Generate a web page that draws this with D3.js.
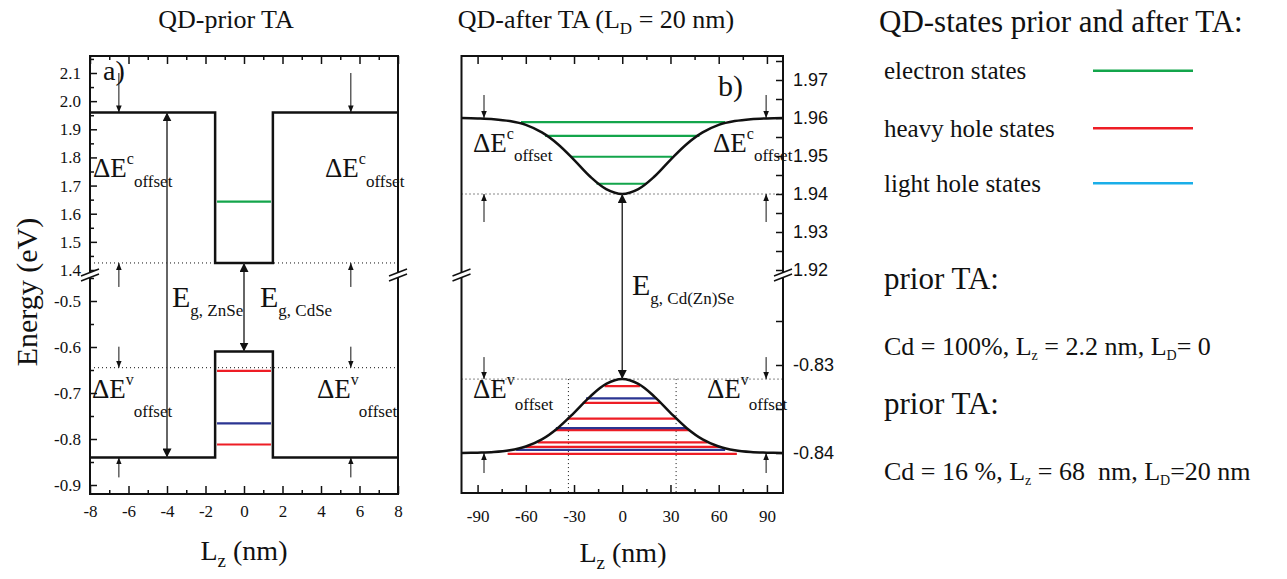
<!DOCTYPE html>
<html>
<head>
<meta charset="utf-8">
<script src="https://cdn.jsdelivr.net/npm/d3@7"></script>
<style>
body{margin:0;background:#fff;}
text{font-family:"Liberation Serif","Times New Roman",serif;fill:#111;}
</style>
</head>
<body>
<svg id="chart"></svg>
<script>
// ---- panel a: QD prior TA (square well) ----
var zA = [-8, -1.5, -1.5, 1.5, 1.5, 8];
var cbA = [1.96, 1.96, 1.425, 1.425, 1.96, 1.96];
var vbA = [-0.84, -0.84, -0.61, -0.61, -0.84, -0.84];
var elecA = [1.643];
var hhA = [-0.652, -0.812];
var lhA = [-0.766];
var levelHalfA = 1.4;
var xTicksA = [-8, -6, -4, -2, 0, 2, 4, 6, 8];
var xMinorA = [-7, -5, -3, -1, 1, 3, 5, 7];
var yTicksUpA = [1.4, 1.5, 1.6, 1.7, 1.8, 1.9, 2.0, 2.1];
var yMinorUpA = [1.45, 1.55, 1.65, 1.75, 1.85, 1.95, 2.05, 2.15];
var yTicksLowA = [-0.9, -0.8, -0.7, -0.6, -0.5];
var yMinorLowA = [-0.85, -0.75, -0.65, -0.55, -0.45];

// ---- panel b: QD after TA (interdiffused, L_D = 20 nm) ----
var zB = [-100, -90, -80, -70, -60, -50, -40, -30, -20, -10, 0, 10, 20, 30, 40, 50, 60, 70, 80, 90, 100];
var cbB = [1.9600, 1.9599, 1.9597, 1.9592, 1.9582, 1.9562, 1.9531, 1.9490, 1.9446, 1.9413, 1.9400,
           1.9413, 1.9446, 1.9490, 1.9531, 1.9562, 1.9582, 1.9592, 1.9597, 1.9599, 1.9600];
var vbB = [-0.84000, -0.83996, -0.83989, -0.83969, -0.83926, -0.83845, -0.83715, -0.83543, -0.83359, -0.83215, -0.83160,
           -0.83215, -0.83359, -0.83543, -0.83715, -0.83845, -0.83926, -0.83969, -0.83989, -0.83996, -0.84000];
var elecB = [1.9589, 1.9553, 1.9498, 1.9427];
var elecStartB = [-63, -48, -32, -16];
var elecEndB = [64, 48, 31, 15];
var hhB = [-0.8324, -0.8343, -0.8361, -0.8374, -0.8388, -0.8393, -0.8401];
var hhStartB = [-11, -24.6, -34, -42, -52.6, -60, -71.3];
var hhEndB = [11, 23.4, 33, 41.5, 53, 61, 71.3];
var lhB = [-0.8338, -0.83717, -0.83965];
var lhStartB = [-22.5, -41.3, -66];
var lhEndB = [21.5, 40.3, 64];
var xTicksB = [-90, -60, -30, 0, 30, 60, 90];
var xMinorB = [-75, -45, -15, 15, 45, 75];
var yTicksUpB = [1.92, 1.93, 1.94, 1.95, 1.96, 1.97];
var yMinorUpB = [1.925, 1.935, 1.945, 1.955, 1.965, 1.975];
var yTicksLowB = [-0.84, -0.83];
var yMinorLowB = [-0.835, -0.825, -0.82];

var green = "#13a54b", red = "#ee1d25", navy = "#2b3592", cyan = "#1aaee8";

var svg = d3.select("#chart").attr("width", 1287).attr("height", 579);

// arrow heads
var defs = svg.append("defs");
defs.append("marker").attr("id", "big").attr("viewBox", "0 0 10 10")
    .attr("refX", 10).attr("refY", 5).attr("markerWidth", 9).attr("markerHeight", 9)
    .attr("markerUnits", "userSpaceOnUse").attr("orient", "auto-start-reverse")
    .append("path").attr("d", "M0,0L10,5L0,10z").attr("fill", "#111");
defs.append("marker").attr("id", "small").attr("viewBox", "0 0 10 8")
    .attr("refX", 10).attr("refY", 4).attr("markerWidth", 7).attr("markerHeight", 5.6)
    .attr("markerUnits", "userSpaceOnUse").attr("orient", "auto")
    .append("path").attr("d", "M0,0L10,4L0,8z").attr("fill", "#111");

// frame boxes
var A = {l: 90, r: 398, t: 56, b: 494, brk: 275};
var B = {l: 461.5, r: 783, t: 56, b: 493, brk: 275};

// scales (broken y axis = two linear scales)
var xA = d3.scaleLinear().domain([-8, 8]).range([A.l, A.r]);
var yAUp = d3.scaleLinear().domain([1.4, 2.1]).range([270, 73]);
var yALow = d3.scaleLinear().domain([-0.9, -0.5]).range([485, 301]);
function yA(v) { return v > 0 ? yAUp(v) : yALow(v); }

var xB = d3.scaleLinear().domain([-100, 100]).range([B.l, B.r]);
var yBUp = d3.scaleLinear().domain([1.92, 1.97]).range([270, 80]);
var yBLow = d3.scaleLinear().domain([-0.84, -0.83]).range([453, 365]);
function yB(v) { return v > 0 ? yBUp(v) : yBLow(v); }

// helper for axis ticks pointing inward
function ticks(axis, tx, ty, vals, size, fmt, fontSize, font) {
    var g = svg.append("g").attr("transform", "translate(" + tx + "," + ty + ")")
        .call(axis.tickValues(vals).tickSizeInner(-size).tickSizeOuter(0).tickFormat(fmt || ""));
    g.select(".domain").remove();
    g.attr("font-family", null).attr("font-size", null);
    g.selectAll("line").attr("stroke", "#111").attr("stroke-width", 1.5);
    g.selectAll("text").attr("font-size", fontSize || 17).attr("fill", "#111")
        .style("font-family", font || null);
    return g;
}
var f1 = function(d) { return d.toFixed(1); };
var f2 = function(d) { return d.toFixed(2); };
var fi = function(d) { return String(d); };

// ---------- panel a ----------
ticks(d3.axisBottom(xA).tickPadding(11), 0, A.b, xTicksA, 8, fi, 17);
ticks(d3.axisBottom(xA), 0, A.b, xMinorA, 4);
ticks(d3.axisTop(xA), 0, A.t, xTicksA, 8);
ticks(d3.axisTop(xA), 0, A.t, xMinorA, 4);
ticks(d3.axisLeft(yAUp).tickPadding(9), A.l, 0, yTicksUpA, 7, f1, 17);
ticks(d3.axisLeft(yAUp), A.l, 0, yMinorUpA, 4);
ticks(d3.axisLeft(yALow).tickPadding(9), A.l, 0, yTicksLowA, 7, f1, 17);
ticks(d3.axisLeft(yALow), A.l, 0, yMinorLowA, 4);

// dotted band edges of the well
[1.425, -0.645].forEach(function(v) {
    svg.append("line").attr("x1", A.l).attr("x2", A.r).attr("y1", yA(v)).attr("y2", yA(v))
        .attr("stroke", "#111").attr("stroke-width", 1).attr("stroke-dasharray", "1,3");
});

// levels
function levelsA(vals, color) {
    svg.selectAll(null).data(vals).enter().append("line")
        .attr("x1", xA(-levelHalfA)).attr("x2", xA(levelHalfA))
        .attr("y1", function(d) { return yA(d); }).attr("y2", function(d) { return yA(d); })
        .attr("stroke", color).attr("stroke-width", 2.2);
}
levelsA(elecA, green);
levelsA(hhA, red);
levelsA(lhA, navy);

var idxA = d3.range(zA.length);
[cbA, vbA].forEach(function(arr) {
    svg.append("path").datum(idxA)
        .attr("d", d3.line().x(function(i) { return xA(zA[i]); }).y(function(i) { return yA(arr[i]); }))
        .attr("fill", "none").attr("stroke", "#111").attr("stroke-width", 2.5);
});

// band gap arrows
function bigArrow(x, y1, y2) {
    svg.append("line").attr("x1", x).attr("x2", x).attr("y1", y1).attr("y2", y2)
        .attr("stroke", "#333").attr("stroke-width", 1.5)
        .attr("marker-start", "url(#big)").attr("marker-end", "url(#big)");
}
bigArrow(xA(-4), yA(1.96), yA(-0.84));
bigArrow(xA(0), yA(1.425), yA(-0.61));

function smallArrow(x, y1, y2) {
    svg.append("line").attr("x1", x).attr("x2", x).attr("y1", y1).attr("y2", y2)
        .attr("stroke", "#111").attr("stroke-width", 1).attr("marker-end", "url(#small)");
}
[-6.5, 5.55].forEach(function(z) {
    smallArrow(xA(z), yAUp(2.1), yA(1.96));
    smallArrow(xA(z), yA(1.425) + 24, yA(1.425));
    smallArrow(xA(z), yA(-0.645) - 21, yA(-0.645));
    smallArrow(xA(z), yA(-0.84) + 20, yA(-0.84));
});

// ---------- panel b ----------
ticks(d3.axisBottom(xB).tickPadding(17), 0, B.b, xTicksB, 8, fi, 17);
ticks(d3.axisBottom(xB), 0, B.b, xMinorB, 4);
ticks(d3.axisTop(xB), 0, B.t, xTicksB, 8);
ticks(d3.axisTop(xB), 0, B.t, xMinorB, 4);
var sans = '"Liberation Sans", Arial, sans-serif';
ticks(d3.axisRight(yBUp).tickPadding(10), B.r, 0, yTicksUpB, 7, f2, 18, sans);
ticks(d3.axisRight(yBUp), B.r, 0, yMinorUpB, 7);
ticks(d3.axisRight(yBLow).tickPadding(10), B.r, 0, yTicksLowB, 7, f2, 18, sans);
ticks(d3.axisRight(yBLow), B.r, 0, yMinorLowB, 7);

[1.94, -0.8316].forEach(function(v) {
    svg.append("line").attr("x1", B.l).attr("x2", B.r).attr("y1", yB(v)).attr("y2", yB(v))
        .attr("stroke", "#111").attr("stroke-width", 1).attr("stroke-dasharray", "1,3");
});
[-33.5, 33.5].forEach(function(z) {
    svg.append("line").attr("x1", xB(z)).attr("x2", xB(z)).attr("y1", yB(-0.8316)).attr("y2", B.b)
        .attr("stroke", "#111").attr("stroke-width", 1).attr("stroke-dasharray", "1,3");
});

function levelsB(vals, s, e, color) {
    svg.selectAll(null).data(vals).enter().append("line")
        .attr("x1", function(d, i) { return xB(s[i]); }).attr("x2", function(d, i) { return xB(e[i]); })
        .attr("y1", function(d) { return yB(d); }).attr("y2", function(d) { return yB(d); })
        .attr("stroke", color).attr("stroke-width", 2.2);
}
levelsB(elecB, elecStartB, elecEndB, green);
levelsB(hhB, hhStartB, hhEndB, red);
levelsB(lhB, lhStartB, lhEndB, navy);

var idxB = d3.range(zB.length);
[cbB, vbB].forEach(function(arr) {
    svg.append("path").datum(idxB)
        .attr("d", d3.line().curve(d3.curveCatmullRom)
            .x(function(i) { return xB(zB[i]); }).y(function(i) { return yB(arr[i]); }))
        .attr("fill", "none").attr("stroke", "#111").attr("stroke-width", 2.5);
});

bigArrow(xB(0), yB(1.94), yB(-0.8316));
[-86, 89.5].forEach(function(z) {
    smallArrow(xB(z), 95, yB(1.96));
    smallArrow(xB(z), yB(1.94) + 28, yB(1.94));
    smallArrow(xB(z), yB(-0.8316) - 22, yB(-0.8316));
    smallArrow(xB(z), yB(-0.84) + 20, yB(-0.84));
});

// frames and axis breaks
[A, B].forEach(function(p) {
    svg.append("rect").attr("x", p.l).attr("y", p.t).attr("width", p.r - p.l).attr("height", p.b - p.t)
        .attr("fill", "none").attr("stroke", "#111").attr("stroke-width", 2);
    [p.l, p.r].forEach(function(x0) {
        var yb = p.brk;
        svg.append("polygon")
            .attr("points", [[x0 - 9, yb + 1], [x0 + 9, yb - 6], [x0 + 9, yb - 1], [x0 - 9, yb + 6]].join(" "))
            .attr("fill", "#fff");
        [0, 5].forEach(function(o) {
            svg.append("line").attr("x1", x0 - 9).attr("y1", yb + 1 + o).attr("x2", x0 + 9).attr("y2", yb - 6 + o)
                .attr("stroke", "#111").attr("stroke-width", 1.5);
        });
    });
});

// ---------- text ----------
function rich(x, y, size, parts, anchor) {
    var t = svg.append("text").attr("x", x).attr("y", y).attr("font-size", size).style("white-space", "pre");
    if (anchor) t.attr("text-anchor", anchor);
    parts.forEach(function(p) {
        t.append("tspan").attr("font-size", p[1] || size).attr("dy", p[2] || 0).text(p[0]);
    });
    return t;
}
function deltaE(x, y, sup, subDy) {
    rich(x, y, 27, [["\u0394E"], [sup, 16, -13], ["offset", 17, 13 + subDy]]);
}

rich(226, 28, 26, [["QD-prior TA"]], "middle");
rich(596, 28, 26, [["QD-after TA (L"], ["D", 17, 6], [" = 20 nm)", 26, -6]], "middle");

rich(103, 80, 28, [["a)"]]);
rich(718, 96, 30, [["b)"]]);

deltaE(93, 177, "c", 10);
deltaE(325, 177, "c", 10);
deltaE(92, 398, "v", 19);
deltaE(317, 398, "v", 19);
deltaE(473, 152, "c", 9);
deltaE(713, 152, "c", 9);
deltaE(473, 398, "v", 12);
deltaE(707, 398, "v", 12);

rich(172, 307, 30, [["E"], ["g, ZnSe", 17, 9]]);
rich(260, 307, 30, [["E"], ["g, CdSe", 17, 9]]);
rich(632, 295, 30, [["E"], ["g, Cd(Zn)Se", 17, 9]]);

svg.append("text").attr("transform", "translate(37,292) rotate(-90)")
    .attr("text-anchor", "middle").attr("font-size", 30).text("Energy (eV)");
rich(244, 560, 28, [["L"], ["z", 19, 7], [" (nm)", 28, -7]], "middle");
rich(623, 562, 28, [["L"], ["z", 19, 7], [" (nm)", 28, -7]], "middle");

// ---------- legend / notes ----------
var legendNames = ["electron states", "heavy hole states", "light hole states"];
var legendColors = [green, red, cyan];
var legendY = [70.7, 128.3, 183.3];
legendNames.forEach(function(name, i) {
    rich(884, legendY[i] + 8.5, 25, [[name]]);
    svg.append("line").attr("x1", 1093).attr("x2", 1193).attr("y1", legendY[i]).attr("y2", legendY[i])
        .attr("stroke", legendColors[i]).attr("stroke-width", 2.6);
});
rich(879, 32, 31, [["QD-states prior and after TA:"]]);
rich(884, 289, 31, [["prior TA:"]]);
rich(884, 355, 26, [["Cd = 100%, L"], ["z", 14, 5], [" = 2.2 nm, L", 26, -5], ["D", 14, 5], ["= 0", 26, -5]]);
rich(884, 414, 31, [["prior TA:"]]);
rich(884, 480, 26, [["Cd = 16 %, L"], ["z", 14, 5], [" = 68  nm, L", 26, -5], ["D", 14, 5], ["=20 nm", 26, -5]]);
</script>
</body>
</html>
